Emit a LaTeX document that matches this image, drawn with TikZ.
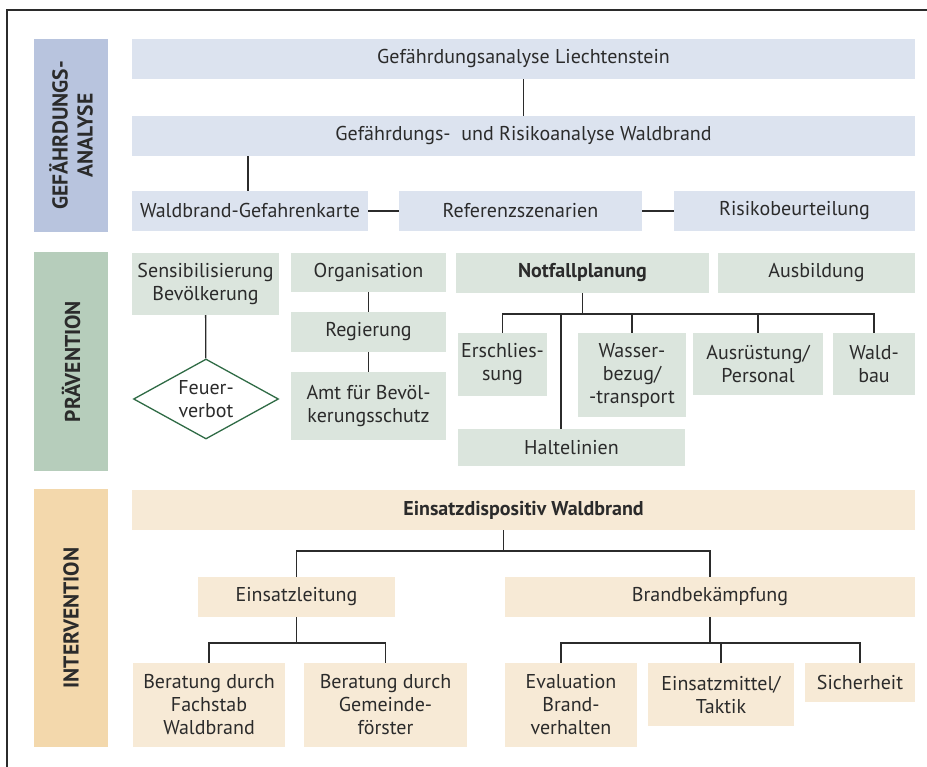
\documentclass[tikz,border=0pt]{standalone}
\usepackage{fontspec}
\setmainfont{PT Sans}
\usetikzlibrary{positioning,calc,shapes.geometric}
\definecolor{blueside}{HTML}{B8C4DE}
\definecolor{bluebox}{HTML}{DCE3EF}
\definecolor{greenside}{HTML}{B6CDBB}
\definecolor{greenbox}{HTML}{DBE5DD}
\definecolor{orangeside}{HTML}{F3D8AC}
\definecolor{orangebox}{HTML}{F7EAD6}
\definecolor{linegray}{HTML}{2B2B2B}
\definecolor{diamondgreen}{HTML}{2F6B45}

\begin{document}
\begin{tikzpicture}[x=1pt,y=-1pt,
 box/.style={inner sep=2pt,align=center,text=linegray,font=\fontsize{20}{23}\selectfont},
 sz/.style 2 args={minimum width=#1pt,minimum height=#2pt},
 sidebox/.style={box,rotate=90,font=\fontsize{21.5}{25}\selectfont\bfseries},
 boldbox/.style={box,font=\fontsize{20}{23}\selectfont\bfseries},
 link/.style={linegray,line width=1.3pt}]
 \useasboundingbox (0,0) rectangle (927,767);
 \draw[linegray,line width=2pt] (7,10) rectangle (945,785);
 % Gefaehrdungsanalyse
 \node[sidebox,fill=blueside,sz={193}{74}] (gaside) at (71,135.5) {GEFÄHRDUNGS-\\ANALYSE};
 \node[box,fill=bluebox,sz={783}{40}] (liech) at (523.5,59) {Gefährdungsanalyse Liechtenstein};
 \node[box,fill=bluebox,sz={783}{40}] (risikoanalyse) at (523.5,136) {Gefährdungs-\ \ und Risikoanalyse Waldbrand};
 \node[box,fill=bluebox,sz={236}{40}] (karte) at (250,211) {Waldbrand-Gefahrenkarte};
 \node[box,fill=bluebox,sz={243}{40}] (szenarien) at (520.5,211) {Referenzszenarien};
 \node[box,fill=bluebox,sz={241}{40}] (beurteilung) at (794.5,211) {Risikobeurteilung};
 \draw[link] (liech) -- (risikoanalyse);
 \draw[link] (karte.north -| 248,0) -- (risikoanalyse.south -| 248,0);
 \draw[link] (karte) -- (szenarien);
 \draw[link] (szenarien) -- (beurteilung);
 % Praevention
 \node[sidebox,fill=greenside,sz={219}{74}] (prside) at (71,361.5) {PRÄVENTION};
 \node[box,fill=greenbox,sz={147}{62}] (sensi) at (205.5,284) {Sensibilisierung\\Bevölkerung};
 \node[box,diamond,draw=diamondgreen,line width=1.3pt,fill=white,aspect=1.8,inner sep=0pt,sz={145}{80}] (feuer) at (206,399) {Feuer-\\verbot};
 \node[box,fill=greenbox,sz={155}{39}] (orga) at (368.5,272.5) {Organisation};
 \node[box,fill=greenbox,sz={155}{40}] (regierung) at (368.5,332) {Regierung};
 \node[box,fill=greenbox,sz={155}{68}] (amt) at (368.5,406) {Amt für Bevöl-\\kerungsschutz};
 \node[boldbox,fill=greenbox,sz={253}{40}] (notfall) at (582.5,273) {Notfallplanung};
 \node[box,fill=greenbox,sz={197}{40}] (ausbildung) at (816.5,273) {Ausbildung};
 \node[box,fill=greenbox,sz={89}{63}] (erschl) at (502.5,364.5) {Erschlies-\\sung};
 \node[box,fill=greenbox,sz={108}{84}] (wasser) at (632,375) {Wasser-\\bezug/\\-transport};
 \node[box,fill=greenbox,sz={130}{62}] (ausruestung) at (758,364) {Ausrüstung/\\Personal};
 \node[box,fill=greenbox,sz={82}{62}] (waldbau) at (874,364) {Wald-\\bau};
 \node[box,fill=greenbox,sz={227}{37}] (halte) at (571.5,447.5) {Haltelinien};
 \draw[link] (sensi) -- (feuer);
 \draw[link] (orga) -- (regierung);
 \draw[link] (regierung) -- (amt);
 \coordinate (nbus) at (0,314);
 \draw[link] (notfall) -- (notfall |- nbus);
 \draw[link] (erschl.north) |- (nbus -| waldbau.north) -- (waldbau.north);
 \foreach \n in {wasser,ausruestung}
  \draw[link] (\n.north) -- (\n.north |- nbus);
 \draw[link] (halte.north -| 561,0) -- (nbus -| 561,0);
 % Intervention
 \node[sidebox,fill=orangeside,sz={258}{74}] (inside) at (71,618) {INTERVENTION};
 \node[boldbox,fill=orangebox,sz={783}{40}] (einsatz) at (523.5,510) {Einsatzdispositiv Waldbrand};
 \node[box,fill=orangebox,sz={197}{40}] (leitung) at (296.5,597) {Einsatzleitung};
 \node[box,fill=orangebox,sz={410}{40}] (bekaempfung) at (710,597) {Brandbekämpfung};
 \node[box,fill=orangebox,sz={152}{84}] (fachstab) at (209,705) {Beratung durch\\Fachstab\\Waldbrand};
 \node[box,fill=orangebox,sz={163}{84}] (gemeinde) at (385.5,705) {Beratung durch\\Gemeinde-\\förster};
 \node[box,fill=orangebox,sz={132}{84}] (evaluation) at (571,705) {Evaluation\\Brand-\\verhalten};
 \node[box,fill=orangebox,sz={146}{63}] (mittel) at (721,694.5) {Einsatzmittel/\\Taktik};
 \node[box,fill=orangebox,sz={110}{39}] (sicherheit) at (860,682.5) {Sicherheit};
 \coordinate (ebus) at ($(leitung.north)!0.5!(bekaempfung.north)$);
 \draw[link] (einsatz.south -| ebus) -- (ebus |- 0,551);
 \draw[link] (leitung.north) |- (0,551 -| bekaempfung.north) -- (bekaempfung.north);
 \coordinate (lbus) at (0,643);
 \draw[link] (leitung) -- (leitung |- lbus);
 \draw[link] (fachstab.north) |- (lbus -| gemeinde.north) -- (gemeinde.north);
 \draw[link] (bekaempfung) -- (bekaempfung |- lbus);
 \draw[link] (evaluation.north -| 561,0) |- (lbus -| sicherheit.north) -- (sicherheit.north);
 \draw[link] (mittel.north) -- (mittel.north |- lbus);
\end{tikzpicture}
\end{document}
